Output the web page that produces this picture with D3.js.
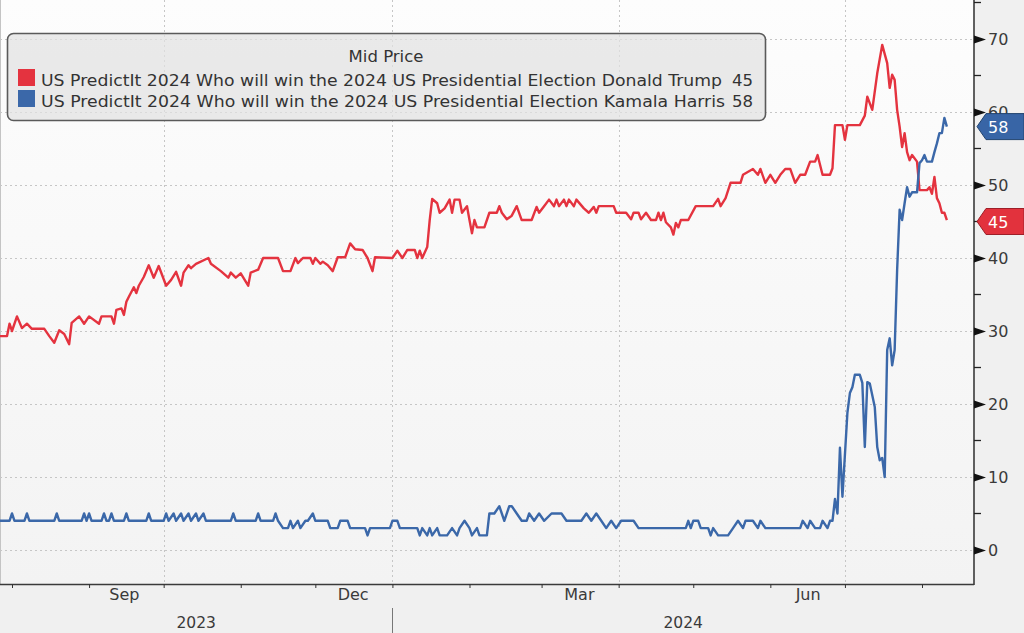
<!DOCTYPE html>
<html><head><meta charset="utf-8">
<script src="https://cdn.jsdelivr.net/npm/d3@7"></script>
<style>
html,body{margin:0;padding:0;background:#f0f0f0;}
svg{display:block;font-family:"DejaVu Sans",Verdana,sans-serif;}
</style>
</head><body>
<svg id="chart" width="1024" height="633"></svg>
<script>
// ---- DATA ----
const seriesNames = [
  "US PredictIt 2024 Who will win the 2024 US Presidential Election Donald Trump",
  "US PredictIt 2024 Who will win the 2024 US Presidential Election Kamala Harris"
];
const lastValues = [45, 58];
const legendTitle = "Mid Price";

const trumpDates = ["2023-07-27","2023-07-30","2023-07-31","2023-08-01","2023-08-03","2023-08-05","2023-08-07","2023-08-09","2023-08-14","2023-08-16","2023-08-18","2023-08-20","2023-08-22","2023-08-24","2023-08-25","2023-08-28","2023-08-30","2023-09-01","2023-09-05","2023-09-06","2023-09-10","2023-09-11","2023-09-12","2023-09-14","2023-09-15","2023-09-16","2023-09-17","2023-09-19","2023-09-20","2023-09-21","2023-09-23","2023-09-25","2023-09-27","2023-09-29","2023-10-02","2023-10-04","2023-10-06","2023-10-08","2023-10-09","2023-10-11","2023-10-12","2023-10-14","2023-10-19","2023-10-20","2023-10-24","2023-10-27","2023-10-28","2023-10-30","2023-11-01","2023-11-04","2023-11-05","2023-11-08","2023-11-10","2023-11-16","2023-11-18","2023-11-21","2023-11-23","2023-11-24","2023-11-26","2023-11-29","2023-11-30","2023-12-01","2023-12-03","2023-12-04","2023-12-06","2023-12-08","2023-12-10","2023-12-13","2023-12-15","2023-12-17","2023-12-20","2023-12-22","2023-12-24","2023-12-25","2024-01-01","2024-01-03","2024-01-05","2024-01-07","2024-01-10","2024-01-11","2024-01-12","2024-01-13","2024-01-15","2024-01-16","2024-01-17","2024-01-19","2024-01-20","2024-01-22","2024-01-24","2024-01-25","2024-01-26","2024-01-28","2024-01-29","2024-01-31","2024-02-01","2024-02-02","2024-02-03","2024-02-04","2024-02-07","2024-02-09","2024-02-12","2024-02-13","2024-02-14","2024-02-16","2024-02-18","2024-02-20","2024-02-22","2024-02-26","2024-02-28","2024-02-29","2024-03-02","2024-03-04","2024-03-06","2024-03-07","2024-03-08","2024-03-10","2024-03-11","2024-03-12","2024-03-14","2024-03-15","2024-03-18","2024-03-20","2024-03-22","2024-03-23","2024-03-24","2024-03-30","2024-03-31","2024-04-04","2024-04-06","2024-04-07","2024-04-09","2024-04-10","2024-04-12","2024-04-14","2024-04-16","2024-04-17","2024-04-18","2024-04-19","2024-04-20","2024-04-22","2024-04-23","2024-04-24","2024-04-25","2024-04-26","2024-04-29","2024-05-02","2024-05-09","2024-05-11","2024-05-12","2024-05-14","2024-05-16","2024-05-20","2024-05-21","2024-05-25","2024-05-27","2024-05-28","2024-05-30","2024-06-01","2024-06-03","2024-06-05","2024-06-07","2024-06-09","2024-06-11","2024-06-13","2024-06-15","2024-06-17","2024-06-19","2024-06-20","2024-06-22","2024-06-25","2024-06-26","2024-06-27","2024-06-30","2024-07-01","2024-07-02","2024-07-07","2024-07-09","2024-07-10","2024-07-12","2024-07-14","2024-07-16","2024-07-18","2024-07-19","2024-07-20","2024-07-21","2024-07-22","2024-07-23","2024-07-24","2024-07-25","2024-07-26","2024-07-27","2024-07-28","2024-07-30","2024-07-31","2024-08-03","2024-08-04","2024-08-05","2024-08-06","2024-08-07","2024-08-08","2024-08-09","2024-08-10","2024-08-11"];
const trumpValues = [29.3,29.3,31,30,32,30.4,31,30.3,30.3,29.3,28.4,30.1,29.6,28.2,31.1,32,31,32,31,32,32,31,32.9,33.1,32.2,34,34.7,36,35.2,36.2,37.4,39,37.3,38.9,36.2,37,38.1,36.2,38,39,38.6,39.2,40,39.2,38.2,37.3,38,37.3,37.9,36.2,38,38.4,40,40,38.2,38.2,40,39.3,40,40,39.2,40,39.2,39.5,39,38.2,40.1,40.1,42,41.2,41.1,40,38.2,40.1,40,41,40,41.1,41.1,40,41,40,41.5,45.2,48.1,47.5,46.2,46.8,48,46.2,48,48,46.2,47.1,45.2,43.4,45.2,44.2,44.2,46.2,46.2,47.1,46.2,45.3,45.8,47.1,45.2,45.2,47,46.2,47.1,48,47.1,48,47.1,48,47.1,48,47.1,48,46.8,46.2,47,46.2,47.1,47.1,46.2,46.2,45.3,46.2,46.2,45.3,46.2,45.2,45.2,46.2,45.2,46.2,44.9,44.2,43.2,44.8,44.2,45.2,45.2,47.1,47.1,48.1,47.1,48.2,50.3,50.3,51.4,52.2,51.4,52.2,50.3,51.4,50.3,51.4,52.2,52.2,50.3,51.4,51.4,53.2,53.2,54.1,51.4,51.4,52.3,58.2,58.2,56.2,58.2,58.2,59.5,62.1,60.3,65.3,69.2,66.7,63.3,65.1,64.4,60.3,58,55.2,57.1,54.5,53.4,54.1,53.2,49.3,49.3,49.7,48.8,51.1,48.2,47.5,46.2,46.2,45.2];

const harrisDates = ["2023-07-27","2023-07-31","2023-08-01","2023-08-02","2023-08-06","2023-08-07","2023-08-08","2023-08-18","2023-08-19","2023-08-20","2023-08-29","2023-08-30","2023-08-31","2023-09-01","2023-09-02","2023-09-06","2023-09-07","2023-09-08","2023-09-09","2023-09-10","2023-09-11","2023-09-15","2023-09-16","2023-09-17","2023-09-24","2023-09-25","2023-09-26","2023-10-01","2023-10-02","2023-10-03","2023-10-05","2023-10-06","2023-10-08","2023-10-09","2023-10-11","2023-10-12","2023-10-14","2023-10-15","2023-10-17","2023-10-18","2023-10-28","2023-10-29","2023-10-30","2023-11-07","2023-11-08","2023-11-09","2023-11-14","2023-11-15","2023-11-16","2023-11-18","2023-11-20","2023-11-21","2023-11-22","2023-11-24","2023-11-25","2023-11-27","2023-11-28","2023-11-30","2023-12-01","2023-12-06","2023-12-07","2023-12-10","2023-12-11","2023-12-14","2023-12-15","2023-12-21","2023-12-22","2023-12-23","2023-12-31","2024-01-01","2024-01-03","2024-01-04","2024-01-11","2024-01-12","2024-01-13","2024-01-15","2024-01-16","2024-01-17","2024-01-19","2024-01-20","2024-01-23","2024-01-25","2024-01-27","2024-01-28","2024-01-30","2024-02-01","2024-02-02","2024-02-04","2024-02-05","2024-02-08","2024-02-09","2024-02-11","2024-02-13","2024-02-14","2024-02-15","2024-02-17","2024-02-18","2024-02-20","2024-02-22","2024-02-24","2024-02-25","2024-02-27","2024-02-29","2024-03-02","2024-03-05","2024-03-09","2024-03-11","2024-03-17","2024-03-19","2024-03-21","2024-03-23","2024-03-25","2024-03-27","2024-03-29","2024-03-31","2024-04-02","2024-04-07","2024-04-09","2024-04-28","2024-04-29","2024-04-30","2024-05-01","2024-05-03","2024-05-04","2024-05-07","2024-05-08","2024-05-09","2024-05-11","2024-05-15","2024-05-17","2024-05-19","2024-05-21","2024-05-22","2024-05-25","2024-05-27","2024-05-28","2024-05-30","2024-06-13","2024-06-14","2024-06-16","2024-06-17","2024-06-19","2024-06-21","2024-06-22","2024-06-24","2024-06-25","2024-06-26","2024-06-27","2024-06-28","2024-06-29","2024-06-30","2024-07-02","2024-07-03","2024-07-04","2024-07-05","2024-07-07","2024-07-08","2024-07-09","2024-07-10","2024-07-11","2024-07-13","2024-07-14","2024-07-15","2024-07-16","2024-07-17","2024-07-18","2024-07-19","2024-07-20","2024-07-21","2024-07-22","2024-07-23","2024-07-24","2024-07-25","2024-07-26","2024-07-27","2024-07-28","2024-07-30","2024-07-31","2024-08-01","2024-08-02","2024-08-03","2024-08-05","2024-08-06","2024-08-07","2024-08-08","2024-08-09","2024-08-10","2024-08-11"];
const harrisValues = [4,4,5,4,4,5,4,4,5,4,4,5,4,5,4,4,5,4,4,5,4,4,5,4,4,5,4,4,5,4,5,4,5,4,5,4,5,4,5,4,4,5,4,4,5,4,4,5,4,3,3,4,3,4,3,4,4,5,4,4,3,3,4,4,3,3,2,3,3,4,4,3,3,2,3,2,3,2,3,2,2,3,2,3,4,3,2,3,2,2,5,5,6,5,4,6,6,5,4,4,5,4,5,4,5,5,4,4,5,4,5,4,3,4,3,4,4,3,3,4,3,4,4,3,3,2,3,2,2,3,4,3,4,4,3,4,3,3,4,3,4,3,3,4,3,4,4,7,5,14,7.3,18.8,21.5,22.3,24,24,22.9,14.1,23,22.8,19.6,14.1,12.3,12.6,10,27.4,29,25.3,27.4,38.4,46.6,45.2,47.5,49.7,48.4,49,49,53,53.4,54.1,53.2,53.2,54.5,55.7,57.1,57.1,59.2,58];

const yTickValues = [0,10,20,30,40,50,60,70];
const yMinorValues = [5,15,25,35,45,55,65,75];
const quarterStarts = ["2023-10-01","2024-01-01","2024-04-01","2024-07-01"];
const monthLabelDates = ["2023-09-15","2023-12-16","2024-03-16","2024-06-16"];
const yearLabels = ["2023","2024"];
const yearBoundary = "2024-01-01";

// ---- CHART ----
const parse = d3.utcParse("%Y-%m-%d");
const colors = ["#e4333f", "#3b68a9"];
const plotRight = 974, plotBottom = 584;
const svg = d3.select("#chart");

const x = d3.scaleUtc().domain([parse("2023-08-01"), parse("2024-08-01")]).range([12, 922]);
const y = d3.scaleLinear().domain([0, 70]).range([550, 39]);

const defs = svg.append("defs");
const grad = defs.append("linearGradient").attr("id","bg").attr("x1",0).attr("y1",0).attr("x2",0).attr("y2",1);
grad.append("stop").attr("offset","0%").attr("stop-color","#fdfdfd");
grad.append("stop").attr("offset","100%").attr("stop-color","#f3f3f3");
defs.append("clipPath").attr("id","clip").append("rect").attr("x",0).attr("y",0).attr("width",plotRight).attr("height",plotBottom);

svg.append("rect").attr("width",1024).attr("height",633).attr("fill","#f0f0f0");
svg.append("rect").attr("x",0).attr("y",0).attr("width",plotRight).attr("height",plotBottom).attr("fill","url(#bg)");
svg.append("line").attr("x1",0.5).attr("x2",0.5).attr("y1",0).attr("y2",plotBottom).attr("stroke","#c4c4c4");

// grid
const grid = svg.append("g").attr("clip-path","url(#clip)");
grid.selectAll("line.h").data(yTickValues).join("line")
  .attr("x1",0).attr("x2",plotRight).attr("y1",d=>Math.round(y(d))+0.5).attr("y2",d=>Math.round(y(d))+0.5)
  .attr("stroke","#c6c6c6").attr("stroke-dasharray","2,3");
grid.selectAll("line.v").data(quarterStarts.map(parse)).join("line")
  .attr("x1",d=>Math.round(x(d))+0.5).attr("x2",d=>Math.round(x(d))+0.5).attr("y1",0).attr("y2",plotBottom)
  .attr("stroke","#c6c6c6").attr("stroke-dasharray","2,3");

// lines
const line = d3.line().x(d=>x(d[0])).y(d=>y(d[1]));
const seriesData = [
  trumpDates.map((d,i)=>[parse(d), trumpValues[i]]),
  harrisDates.map((d,i)=>[parse(d), harrisValues[i]])
];
const lines = svg.append("g").attr("clip-path","url(#clip)");
lines.selectAll("path").data(seriesData).join("path")
  .attr("d", line).attr("fill","none")
  .attr("stroke",(d,i)=>colors[i]).attr("stroke-width",2.4)
  .attr("stroke-linejoin","round");

// right axis
svg.append("line").attr("x1",plotRight).attr("x2",plotRight).attr("y1",0).attr("y2",plotBottom+1)
  .attr("stroke","#3a3a3a").attr("stroke-width",1.6);
const ay = svg.append("g").attr("transform",`translate(${plotRight},0)`)
  .call(d3.axisRight(y).tickValues(yTickValues).tickSize(0).tickPadding(14));
ay.select(".domain").remove();
ay.selectAll(".tick text").attr("font-size",16).attr("fill","#3a3a3a").attr("font-family","DejaVu Sans, sans-serif");
ay.selectAll(".tick").append("path").attr("d","M0,-4L12,0L0,4Z").attr("fill","#111");
svg.append("g").selectAll("line").data(yMinorValues).join("line")
  .attr("x1",plotRight).attr("x2",plotRight+7).attr("y1",d=>y(d)).attr("y2",d=>y(d))
  .attr("stroke","#222").attr("stroke-width",1.3);

// bottom axis
const months = d3.utcMonth.range(parse("2023-08-01"), parse("2024-08-02"));
const ax = svg.append("g").attr("transform",`translate(0,${plotBottom})`)
  .call(d3.axisBottom(x).tickValues(months).tickSize(4).tickFormat(""));
ax.select(".domain").attr("d",`M0,0.5H${plotRight}`).attr("stroke","#3a3a3a").attr("stroke-width",1.6);
ax.selectAll(".tick line").attr("stroke","#333");
const axl = svg.append("g").attr("transform",`translate(0,${plotBottom})`)
  .call(d3.axisBottom(x).tickValues(monthLabelDates.map(parse)).tickSize(0).tickPadding(5).tickFormat(d3.utcFormat("%b")));
axl.select(".domain").remove();
axl.selectAll("text").attr("font-size",16).attr("fill","#3a3a3a").attr("font-family","DejaVu Sans, sans-serif");

// years
const xb = x(parse(yearBoundary));
const yearCenters = [ (0 + xb)/2, (xb + plotRight)/2 ];
svg.append("g").selectAll("text").data(yearLabels).join("text")
  .attr("x",(d,i)=>yearCenters[i]).attr("y",628).attr("text-anchor","middle")
  .attr("font-size",15.5).attr("fill","#3a3a3a").text(d=>d);
svg.append("line").attr("x1",Math.round(xb)+0.5).attr("x2",Math.round(xb)+0.5).attr("y1",608).attr("y2",633)
  .attr("stroke","#777");

// value tags
const tagG = svg.append("g");
lastValues.forEach((v,i)=>{
  const cy = y(v);
  tagG.append("path")
    .attr("d",`M977,${cy} L986,${cy-13} L1024,${cy-13} L1024,${cy+13} L986,${cy+13} Z`)
    .attr("fill", i===0 ? "#e2323d" : "#3865a6")
    .attr("stroke", i===0 ? "#9e1f28" : "#22446f").attr("stroke-width",1);
  tagG.append("text").attr("x",988).attr("y",cy+6).attr("font-size",16)
    .attr("fill","#fff").text(v);
});

// legend
const lg = svg.append("g");
lg.append("rect").attr("x",7.5).attr("y",33.5).attr("width",758).attr("height",87).attr("rx",6)
  .attr("fill","rgba(226,226,226,0.72)").attr("stroke","#5a5a5a").attr("stroke-width",1.6);
lg.append("text").attr("x",386).attr("y",62).attr("text-anchor","middle")
  .attr("font-size",16.5).attr("fill","#333").text(legendTitle);
seriesNames.forEach((n,i)=>{
  const by = 86 + i*21;
  lg.append("rect").attr("x",18).attr("y",by-17).attr("width",17).attr("height",17).attr("fill",colors[i]);
  lg.append("text").attr("x",41).attr("y",by).attr("font-size",16.5).attr("fill","#333")
    .attr("textLength", i===0 ? 681 : 684).attr("lengthAdjust","spacingAndGlyphs").text(n);
  lg.append("text").attr("x",753).attr("y",by).attr("text-anchor","end").attr("font-size",16.5)
    .attr("fill","#333").text(lastValues[i]);
});
</script>
</body></html>
